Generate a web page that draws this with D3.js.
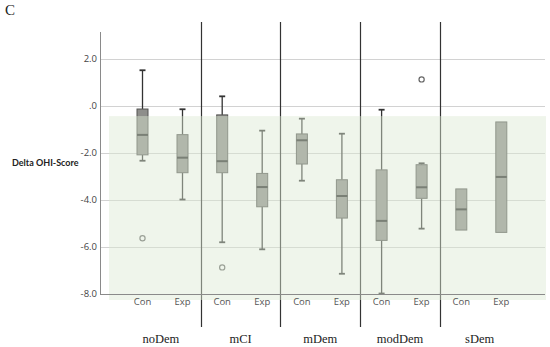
<!DOCTYPE html>
<html>
<head>
<meta charset="utf-8">
<script src="https://cdn.jsdelivr.net/npm/d3@7"></script>
<style>
  body { margin: 0; background: #fff; }
  svg { display: block; }
</style>
</head>
<body>
<div class="chart"></div>
<script>
var svgWidth = 550;
var svgHeight = 347;

// groups and the two arms inside each
var groups = ["noDem", "mCI", "mDem", "modDem", "sDem"];
var arms = ["Con", "Exp"];
var yTicks = [2, 0, -2, -4, -6, -8];

// five-number summaries, in groups x arms order
var whiskerLow = [-2.35, -4.0, -5.82, -6.12, -3.2, -7.16, -8.0, -5.24, -5.3, -5.4];
var q1 = [-2.1, -2.86, -2.86, -4.31, -2.49, -4.79, -5.74, -3.95, -5.3, -5.4];
var median = [-1.25, -2.22, -2.37, -3.47, -1.48, -3.85, -4.91, -3.48, -4.42, -3.04];
var q3 = [-0.15, -1.24, -0.4, -2.89, -1.21, -3.16, -2.74, -2.52, -3.55, -0.7];
var whiskerHigh = [1.5, -0.16, 0.39, -1.07, -0.56, -1.2, -0.18, -2.46, -3.55, -0.7];

// outliers: [group, arm, value]
var outliers = [["noDem", "Con", -5.65], ["mCI", "Con", -6.89], ["modDem", "Exp", 1.11]];

// shaded reference band (upper edge)
var bandTop = -0.45;

var boxes = [];
groups.forEach(function(g, i) {
  arms.forEach(function(a, j) {
    var k = i * 2 + j;
    boxes.push({group: g, arm: a, lo: whiskerLow[k], q1: q1[k], med: median[k], q3: q3[k], hi: whiskerHigh[k]});
  });
});

var svg = d3.select(".chart").append("svg")
  .attr("width", svgWidth)
  .attr("height", svgHeight);

var y = d3.scaleLinear().domain([-8, 2]).range([293.5, 58.5]);

var xGroup = d3.scaleBand().domain(groups).range([121, 519.5]);
var xArm = d3.scalePoint().domain(arms).range([21.5, 61.5]);
function cx(g, a) { return xGroup(g) + xArm(a); }

var axisX = 100;
var plotRight = 545;

// panel letter
svg.append("text")
  .attr("x", 5).attr("y", 15)
  .style("font-family", "'Liberation Serif', 'DejaVu Serif', serif")
  .style("font-size", "15px")
  .attr("fill", "#222")
  .text("C");

// gridlines
svg.append("g").selectAll("line")
  .data(yTicks.filter(function(t) { return t > -8; }))
  .enter().append("line")
  .attr("x1", axisX).attr("x2", plotRight)
  .attr("y1", function(d) { return Math.round(y(d)) + 0.5; })
  .attr("y2", function(d) { return Math.round(y(d)) + 0.5; })
  .attr("stroke", "#d2d2d2")
  .attr("stroke-width", 1);

// group separators
svg.append("g").selectAll("line")
  .data(groups.slice(1))
  .enter().append("line")
  .attr("x1", function(d) { return Math.round(xGroup(d)) + 0.5; })
  .attr("x2", function(d) { return Math.round(xGroup(d)) + 0.5; })
  .attr("y1", 22).attr("y2", 327)
  .attr("stroke", "#333")
  .attr("stroke-width", 1.2);

// whiskers and boxes
var bw = 11;
var capW = 6;
var boxG = svg.append("g");
boxes.forEach(function(d) {
  var x = cx(d.group, d.arm);
  if (d.hi > d.q3) {
    boxG.append("line").attr("x1", x).attr("x2", x).attr("y1", y(d.hi)).attr("y2", y(d.q3))
      .attr("stroke", "#333").attr("stroke-width", 1.3);
    boxG.append("line").attr("x1", x - capW / 2).attr("x2", x + capW / 2).attr("y1", y(d.hi)).attr("y2", y(d.hi))
      .attr("stroke", "#333").attr("stroke-width", 1.8);
  }
  if (d.lo < d.q1) {
    boxG.append("line").attr("x1", x).attr("x2", x).attr("y1", y(d.q1)).attr("y2", y(d.lo))
      .attr("stroke", "#333").attr("stroke-width", 1.3);
    boxG.append("line").attr("x1", x - capW / 2).attr("x2", x + capW / 2).attr("y1", y(d.lo)).attr("y2", y(d.lo))
      .attr("stroke", "#333").attr("stroke-width", 1.8);
  }
  boxG.append("rect")
    .attr("x", x - bw / 2).attr("width", bw)
    .attr("y", y(d.q3)).attr("height", y(d.q1) - y(d.q3))
    .attr("fill", "#8e8e8b")
    .attr("stroke", "#555553").attr("stroke-width", 1);
  boxG.append("line")
    .attr("x1", x - bw / 2).attr("x2", x + bw / 2)
    .attr("y1", y(d.med)).attr("y2", y(d.med))
    .attr("stroke", "#2a2a2a").attr("stroke-width", 2);
});

// outliers
svg.append("g").selectAll("circle")
  .data(outliers)
  .enter().append("circle")
  .attr("cx", function(d) { return cx(d[0], d[1]); })
  .attr("cy", function(d) { return y(d[2]); })
  .attr("r", 2.6)
  .attr("fill", "none")
  .attr("stroke", "#666")
  .attr("stroke-width", 1.2);

// translucent green reference band drawn over the boxes
svg.append("rect")
  .attr("x", 109).attr("width", 546 - 109)
  .attr("y", y(bandTop)).attr("height", 300 - y(bandTop))
  .attr("fill", "rgb(220,233,211)")
  .attr("opacity", 0.45);

// axis lines
svg.append("line")
  .attr("x1", axisX + 0.5).attr("x2", axisX + 0.5)
  .attr("y1", 32).attr("y2", Math.round(y(-8)) + 0.5)
  .attr("stroke", "#8a8a8a");
svg.append("line")
  .attr("x1", axisX).attr("x2", plotRight)
  .attr("y1", Math.round(y(-8)) + 0.5).attr("y2", Math.round(y(-8)) + 0.5)
  .attr("stroke", "#8a8a8a");

// y tick labels
svg.append("g").selectAll("text")
  .data(yTicks)
  .enter().append("text")
  .attr("x", 97)
  .attr("y", function(d) { return y(d); })
  .attr("dy", "0.35em")
  .attr("text-anchor", "end")
  .style("font-family", "'Open Sans', 'DejaVu Sans', sans-serif")
  .style("font-size", "9.5px")
  .attr("fill", "#444")
  .text(function(d) { return d === 0 ? ".0" : d3.format(".1f")(d).replace("−", "-"); });

// y axis title
svg.append("text")
  .attr("x", 12).attr("y", 166)
  .style("font-family", "Lato, 'Open Sans', sans-serif")
  .style("font-size", "9px")
  .style("font-weight", "bold")
  .attr("fill", "#222")
  .text("Delta OHI-Score");

// arm labels
boxes.forEach(function(d) {
  svg.append("text")
    .attr("x", cx(d.group, d.arm))
    .attr("y", 305)
    .attr("text-anchor", "middle")
    .style("font-family", "'Open Sans', 'DejaVu Sans', sans-serif")
    .style("font-size", "9.5px")
    .attr("fill", "#555")
    .text(d.arm);
});

// group labels
svg.append("g").selectAll("text")
  .data(groups)
  .enter().append("text")
  .attr("x", function(d) { return xGroup(d) + xGroup.bandwidth() / 2; })
  .attr("y", 343)
  .attr("text-anchor", "middle")
  .style("font-family", "'Liberation Serif', 'DejaVu Serif', serif")
  .style("font-size", "12.5px")
  .attr("fill", "#222")
  .text(function(d) { return d; });
</script>
</body>
</html>
